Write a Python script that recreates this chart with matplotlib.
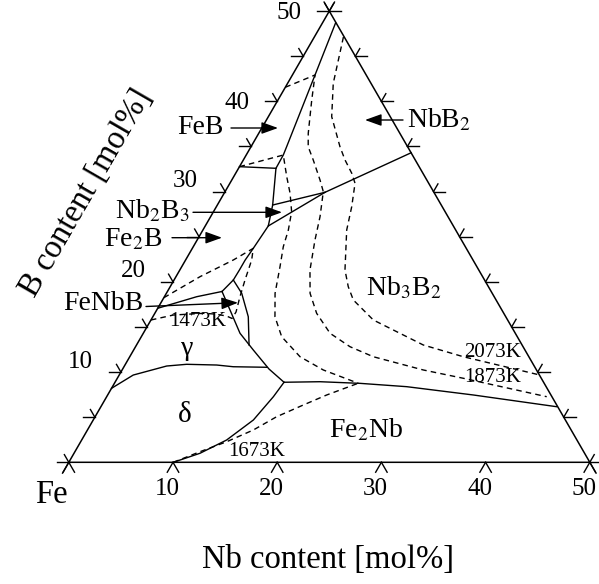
import numpy as np
import matplotlib.pyplot as plt

plt.rcParams['font.family'] = ['Liberation Serif', 'DejaVu Serif']
plt.rcParams['mathtext.fontset'] = 'stix'

# all compositions are (Nb, B) in mol%, the rest is Fe

# solid phase boundaries
feb_boundary = [(1.26, 48.68), (2.17, 42.92), (3.42, 34.97), (3.56, 34.05), (3.59, 32.58),
                (5.31, 28.51), (6.05, 26.19), (5.85, 23.71), (5.72, 22.4), (5.72, 21.3),
                (5.69, 20.20), (5.24, 18.93)]
feb_tie = [(0, 32.76), (3.59, 32.58)]
nb2b3_upper = [(5.31, 28.51), (9.63, 29.92)]
nb2b3_lower = [(6.05, 26.19), (9.63, 29.92)]
nbb2_line = [(9.63, 29.92), (15.7, 34.3)]
fenbb_top = [(0, 17.07), (1.77, 17.80), (3.10, 18.35), (5.24, 18.93)]
fenbb_arc = [(5.69, 20.20), (7.23, 18.73), (9.16, 16.13), (10.8, 13.0)]
valley = [(5.24, 18.93), (7.03, 16.88), (9.28, 14.30), (11.49, 12.44), (14.04, 10.34), (16.22, 8.87)]
gamma_delta = [(0, 8.20), (1.35, 9.67), (4.06, 10.67), (5.88, 10.86), (8.80, 10.78),
               (10.49, 10.59), (13.73, 10.53)]
delta_fe2nb = [(16.22, 8.87), (16.0, 7.27), (15.37, 4.69), (13.91, 2.47), (12.09, 1.0), (10.03, 0)]
fe2nb_nb3b2 = [(16.22, 8.87), (19.64, 8.93), (23.57, 8.75), (28.24, 8.38), (35.09, 7.46), (43.74, 6.16)]
solid_lines = [feb_boundary, feb_tie, nb2b3_upper, nb2b3_lower, nbb2_line, fenbb_top,
               fenbb_arc, valley, gamma_delta, delta_fe2nb, fe2nb_nb3b2]

# isotherms (dashed)
iso_1473 = [(0, 18.24), (2.31, 20.57), (4.58, 22.42), (5.85, 23.71), (6.34, 22.42), (6.81, 20.20),
            (7.25, 18.35), (7.72, 16.66), (7.69, 15.94), (7.04, 16.21), (5.81, 16.43),
            (4.65, 16.51), (1.87, 16.32), (0, 15.77)]
iso_1673_up = [(0, 32.76), (3.56, 34.05), (5.09, 31.65), (6.33, 29.81), (7.50, 27.77), (8.20, 25.74),
               (8.64, 23.89), (9.43, 21.68), (10.43, 18.73), (11.72, 16.13), (13.47, 13.92),
               (16.34, 11.70), (19.31, 10.23), (23.4, 8.76)]
iso_1673_low = [(10.03, 0), (12.0, 1.17), (14.01, 2.28), (15.92, 3.58), (17.42, 5.05),
                (19.33, 6.35), (21.02, 7.46), (23.4, 8.76)]
iso_1873 = [(0, 41.56), (2.17, 42.92), (3.24, 40.15), (4.75, 36.46), (5.49, 34.97), (6.71, 33.50),
            (8.47, 31.28), (9.43, 29.99), (10.50, 27.22), (11.31, 24.63), (12.49, 21.31),
            (13.79, 18.73), (15.53, 16.51), (17.92, 14.30), (20.58, 12.81), (23.37, 11.70),
            (28.91, 10.23), (33.21, 9.31), (42.23, 7.27)]
iso_2073 = [(2.79, 47.13), (4.38, 42.0), (6.08, 38.30), (8.54, 34.97), (9.76, 33.50), (11.14, 32.03),
            (12.01, 30.92), (12.99, 28.32), (13.80, 25.74), (15.85, 21.31), (17.09, 19.46),
            (18.31, 17.99), (21.34, 15.77), (27.52, 13.0), (32.01, 11.70), (40.38, 9.67)]
dashed_lines = [iso_1473, iso_1673_up, iso_1673_low, iso_1873, iso_2073]

b_ticks = np.arange(0, 51, 5)
nb_ticks = np.arange(0, 51, 10)
b_labels = ['10', '20', '30', '40', '50']
nb_labels = ['10', '20', '30', '40', '50']

S3 = np.sqrt(3) / 2


def tern(pts):
    a = np.array(pts, dtype=float)
    return a[:, 0] + a[:, 1] / 2, a[:, 1] * S3


# pixel position helper for text placement
def pix(x, y):
    return (x - 68.8) / 10.42, (462.3 - y) / 10.42


fig = plt.figure(figsize=(5.99, 5.84), dpi=100)
ax = fig.add_axes([0, 0, 1, 1])
ax.set_xlim(-68.8 / 10.42, (599 - 68.8) / 10.42)
ax.set_ylim((462.3 - 584) / 10.42, 462.3 / 10.42)
ax.axis('off')

lw = 1.0
# frame
x, y = tern([(0, 0), (50, 0), (0, 50), (0, 0)])
ax.plot(x, y, color='k', lw=1.1)

# ticks
h, d = 1.15, 0.85
for b in b_ticks:
    # left edge
    px, py = tern([(0, b)])
    ax.plot([px[0], px[0] - h], [py[0], py[0]], color='k', lw=lw)
    ax.plot([px[0], px[0] - 0.5 * d], [py[0], py[0] + S3 * d], color='k', lw=lw)
    # right edge
    px, py = tern([(50 - b, b)])
    ax.plot([px[0], px[0] + h], [py[0], py[0]], color='k', lw=lw)
    ax.plot([px[0], px[0] + 0.5 * d], [py[0], py[0] + S3 * d], color='k', lw=lw)
for n in nb_ticks:
    px, py = tern([(n, 0)])
    ax.plot([px[0], px[0] - 0.5 * 1.1], [0, -S3 * 1.1], color='k', lw=lw)
    ax.plot([px[0], px[0] + 0.5 * 1.1], [0, -S3 * 1.1], color='k', lw=lw)

# edge extensions at the corners
ax.plot([0, -0.6], [0, -S3 * 1.2], color='k', lw=lw)
ax.plot([50, 50.6], [0, -S3 * 1.2], color='k', lw=lw)
ax.plot([25, 25.5], [50 * S3, 50 * S3 + S3], color='k', lw=lw)
ax.plot([25, 24.5], [50 * S3, 50 * S3 + S3], color='k', lw=lw)

# tick labels
for b, lab in zip(b_ticks[2::2], b_labels):
    px, py = tern([(0, b)])
    dy = 1.0 if b < 40 else -0.2
    ax.text(px[0] - 3.85, py[0] + dy, lab, fontsize=18, ha='center', va='center')
for n, lab in zip(nb_ticks[1:], nb_labels):
    ax.text(n - 0.55, -2.55, lab, fontsize=18, ha='center', va='center')

# phase lines
for line in solid_lines:
    x, y = tern(line)
    ax.plot(x, y, color='k', lw=lw)
for line in dashed_lines:
    x, y = tern(line)
    ax.plot(x, y, color='k', lw=lw, ls=(0, (4, 3)))

# labels
ax.text(*pix(51, 495), 'Fe', fontsize=23.5, ha='center', va='center')
ax.text(*pix(328, 560), 'Nb content [mol%]', fontsize=23.5, ha='center', va='center')
ax.text(*pix(86, 193), 'B content [mol%]', fontsize=23.5, ha='center', va='center',
        rotation=60, rotation_mode='anchor')

ax.text(*pix(404, 288), 'Nb$_3$B$_2$', fontsize=20, ha='center', va='center')
ax.text(*pix(366, 430), 'Fe$_2$Nb', fontsize=20, ha='center', va='center')
ax.text(*pix(187, 355), 'γ', fontsize=20, ha='center', va='baseline')
ax.text(*pix(185, 415), 'δ', fontsize=21, ha='center', va='center')
ax.text(*pix(198, 321), '1473K', fontsize=15, ha='center', va='center')
ax.text(*pix(257, 451), '1673K', fontsize=15, ha='center', va='center')
ax.text(*pix(493, 352.5), '2073K', fontsize=15, ha='center', va='center')
ax.text(*pix(493, 377.5), '1873K', fontsize=15, ha='center', va='center')

arrow = dict(arrowstyle='-|>,head_length=0.5,head_width=0.18', color='k', lw=lw,
             shrinkA=0, shrinkB=0, mutation_scale=20)
ax.text(*pix(200, 128), 'FeB', fontsize=20, ha='center', va='center')
ax.annotate('', xy=pix(278, 128), xytext=pix(231, 128), arrowprops=arrow)
ax.text(*pix(407, 120), 'NbB$_2$', fontsize=20, ha='left', va='center')
ax.annotate('', xy=pix(365, 120), xytext=pix(403, 120), arrowprops=arrow)
ax.text(*pix(152, 211), 'Nb$_2$B$_3$', fontsize=20, ha='center', va='center')
ax.annotate('', xy=pix(282, 212.3), xytext=pix(193, 212.3), arrowprops=arrow)
ax.text(*pix(133, 240), 'Fe$_2$B', fontsize=20, ha='center', va='center')
ax.annotate('', xy=pix(222, 237.7), xytext=pix(172, 237.7), arrowprops=arrow)
ax.text(*pix(103, 304), 'FeNbB', fontsize=20, ha='center', va='center')
ax.annotate('', xy=pix(238, 302.7), xytext=pix(146, 306.5), arrowprops=arrow)

fig.savefig('out.png', dpi=100)
